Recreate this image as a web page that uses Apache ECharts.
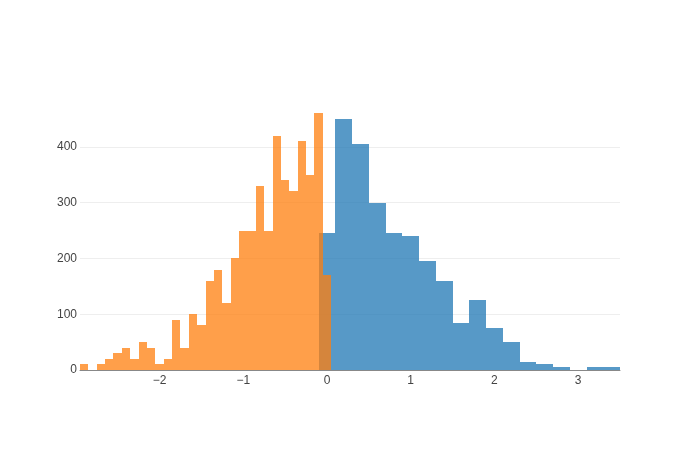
<!DOCTYPE html>
<html>
<head>
<meta charset="utf-8">
<script src="https://cdn.jsdelivr.net/npm/echarts@6/dist/echarts.min.js"></script>
<style>html,body{margin:0;padding:0;background:#fff}#c{width:700px;height:450px}</style>
</head>
<body>
<div id="c"></div>
<script>
// Orange trace: bins of width 0.1 starting at -2.95
const orangeStart = -2.95;
const orangeWidth = 0.1;
const orangeCounts = [10, 0, 10, 20, 30, 40, 20, 50, 40, 10, 20, 90, 40, 100, 80, 160, 180, 120, 200, 250, 250, 330, 250, 420, 340, 320, 410, 350, 460, 170];
// Blue trace: bins of width 0.2 starting at -0.1
const blueStart = -0.1;
const blueWidth = 0.2;
const blueCounts = [245, 450, 405, 300, 245, 240, 195, 160, 85, 125, 75, 50, 15, 10, 5, 0, 5, 5];
const xTicks = [-2, -1, 0, 1, 2, 3];
const yTicks = [0, 100, 200, 300, 400];

const FONT = '"Liberation Sans", Arial, sans-serif';

function bins(start, width, counts) {
  return counts.map((c, i) => [start + i * width, start + (i + 1) * width, c]);
}

function renderBar(params, api) {
  const x0 = api.value(0), x1 = api.value(1), y = api.value(2);
  if (!y) return null;
  const p0 = api.coord([x0, y]);
  const p1 = api.coord([x1, 0]);
  const left = Math.round(p0[0]), right = Math.round(p1[0]);
  const top = Math.round(p0[1]), bottom = Math.round(p1[1]);
  return {
    type: 'rect',
    shape: { x: left, y: top, width: right - left, height: bottom - top },
    style: { fill: api.visual('color'), opacity: 0.75 }
  };
}

const chart = echarts.init(document.getElementById('c'), null, { renderer: 'canvas' });
chart.setOption({
  animation: false,
  backgroundColor: '#fff',
  textStyle: { fontFamily: FONT },
  grid: { left: 80, right: 80, top: 100, bottom: 80, containLabel: false },
  xAxis: {
    type: 'value',
    min: -2.95,
    max: 3.5,
    axisLine: { show: true, onZero: true, lineStyle: { color: '#888', width: 1 } },
    axisTick: { show: false },
    splitLine: { show: false },
    axisLabel: {
      customValues: xTicks,
      color: '#444',
      fontSize: 12,
      margin: 5,
      fontFamily: FONT,
      formatter: v => String(v).replace('-', '\u2212')
    }
  },
  yAxis: {
    type: 'value',
    min: 0,
    max: 484,
    interval: 100,
    axisLine: { show: false },
    axisTick: { show: false },
    splitLine: { show: true, showMinLine: false, showMaxLine: false, lineStyle: { color: '#eee', width: 1 } },
    axisLabel: {
      customValues: yTicks,
      color: '#444',
      fontSize: 12,
      margin: 3,
      fontFamily: FONT
    }
  },
  series: [
    {
      type: 'custom',
      name: 'blue',
      renderItem: renderBar,
      itemStyle: { color: 'rgb(31,119,180)' },
      encode: { x: [0, 1], y: 2 },
      data: bins(blueStart, blueWidth, blueCounts),
      z: 2
    },
    {
      type: 'custom',
      name: 'orange',
      renderItem: renderBar,
      itemStyle: { color: 'rgb(255,127,14)' },
      encode: { x: [0, 1], y: 2 },
      data: bins(orangeStart, orangeWidth, orangeCounts),
      z: 3
    }
  ]
});
</script>
</body>
</html>
